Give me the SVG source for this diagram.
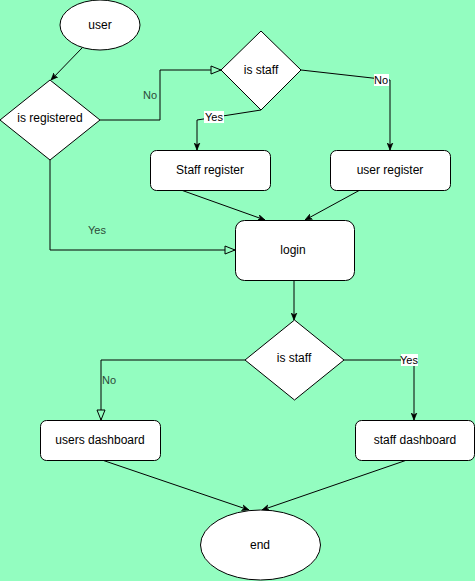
<svg xmlns="http://www.w3.org/2000/svg" width="475" height="581" viewBox="0 0 475 581">
<defs>
<style>
.n{fill:#fff;stroke:#000;stroke-width:1}
.t{font-family:"Liberation Sans",Arial,sans-serif;font-size:12px;fill:#000;text-anchor:middle;dominant-baseline:central}
.e{fill:none;stroke:#000;stroke-width:1}
.l{font-family:"Liberation Sans",Arial,sans-serif;font-size:11px;fill:#000;text-anchor:middle;dominant-baseline:central}
.lf{font-family:"Liberation Sans",Arial,sans-serif;font-size:11px;fill:#2b4a38;text-anchor:middle;dominant-baseline:central}
.lb{fill:#fff}
</style>
<marker id="af" viewBox="0 0 10 10" refX="10" refY="5" markerWidth="7" markerHeight="7" orient="auto" markerUnits="userSpaceOnUse">
<path d="M0,1 L10,5 L0,9 L3,5 Z" fill="#000" stroke="#000"/>
</marker>
<marker id="ao" viewBox="0 0 12 10" refX="11" refY="5" markerWidth="12" markerHeight="10" orient="auto" markerUnits="userSpaceOnUse">
<path d="M1,1 L11,5 L1,9 Z" fill="#93fdc0" stroke="#000" stroke-width="1"/>
</marker>
</defs>
<rect width="475" height="581" fill="#93fdc0"/>
<g id="connectors">
<path class="e" d="M82,48 L51,80" marker-end="url(#af)"/>
<path class="e" d="M100,120 L160,120 L160,70 L221,70" marker-end="url(#ao)"/>
<path class="e" d="M50,160 L50,250 L235,250" marker-end="url(#ao)"/>
<path class="e" d="M261,110 L197,120 L197,150" marker-end="url(#af)"/>
<path class="e" d="M301,70 L390,80 L390,150" marker-end="url(#af)"/>
<path class="e" d="M181,190 L265,220" marker-end="url(#af)"/>
<path class="e" d="M360,190 L305,220" marker-end="url(#af)"/>
<path class="e" d="M294,280 L294,320" marker-end="url(#af)"/>
<path class="e" d="M245,360 L101,360 L101,420" marker-end="url(#ao)"/>
<path class="e" d="M344,360 L414,360 L414,420" marker-end="url(#af)"/>
<path class="e" d="M102,460 L249,510" marker-end="url(#af)"/>
<path class="e" d="M407,460 L262,510" marker-end="url(#af)"/>
<text class="lf" x="150" y="95">No</text>
<text class="lf" x="97" y="230">Yes</text>
<rect class="lb" x="204" y="111" width="20" height="12"/>
<text class="l" x="214" y="117">Yes</text>
<rect class="lb" x="374" y="74" width="15" height="12"/>
<text class="l" x="381" y="80">No</text>
<text class="lf" x="109" y="380">No</text>
<rect class="lb" x="401" y="354" width="17" height="12"/>
<text class="l" x="409" y="360">Yes</text>
</g>
<g id="user"><ellipse class="n" cx="100" cy="25" rx="40" ry="25"/><text class="t" x="100" y="25">user</text></g>
<g id="is-registered"><path class="n" d="M50,80 L100,120 L50,160 L0,120 Z"/><text class="t" x="50" y="118">is registered</text></g>
<g id="is-staff-1"><path class="n" d="M261,31 L301,70 L261,110 L221,70 Z"/><text class="t" x="261" y="70">is staff</text></g>
<g id="staff-register"><rect class="n" x="150.5" y="150.5" width="120" height="40" rx="6"/><text class="t" x="210" y="170">Staff register</text></g>
<g id="user-register"><rect class="n" x="330.5" y="150.5" width="120" height="40" rx="6"/><text class="t" x="390" y="170">user register</text></g>
<g id="login"><rect class="n" x="235.5" y="220.5" width="119" height="60" rx="9"/><text class="t" x="293" y="250">login</text></g>
<g id="is-staff-2"><path class="n" d="M294.5,320 L344,360 L294.5,400 L245,360 Z"/><text class="t" x="294" y="358">is staff</text></g>
<g id="users-dashboard"><rect class="n" x="40.5" y="420.5" width="120" height="40" rx="6"/><text class="t" x="100" y="440">users dashboard</text></g>
<g id="staff-dashboard"><rect class="n" x="355.5" y="420.5" width="119" height="40" rx="6"/><text class="t" x="415" y="440">staff dashboard</text></g>
<g id="end"><ellipse class="n" cx="260.5" cy="545" rx="60" ry="35"/><text class="t" x="260" y="545">end</text></g>
</svg>
